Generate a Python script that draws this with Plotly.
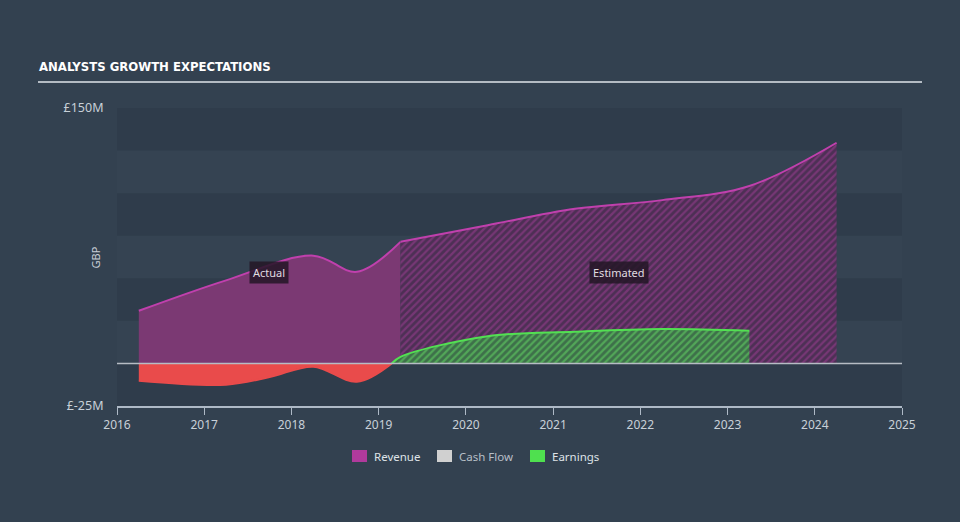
import plotly.graph_objects as go

# ---- data (GBP millions) ----
rev_actual_x = [2016.25, 2017.25, 2018.25, 2018.75, 2019.25]
rev_actual_y = [30.9, 48.8, 63.3, 53.8, 71.4]
rev_est_x = [2019.25, 2020.25, 2021.25, 2022.25, 2023.25, 2024.25]
rev_est_y = [71.4, 81.2, 90.8, 95.9, 104.2, 129.6]

earn_actual_x = [2016.25, 2017.25, 2017.75, 2018.25, 2018.75, 2019.15]
earn_actual_y = [-10.2, -12.5, -8.0, -1.9, -10.8, 0.0]
earn_est_x = [2019.15, 2019.25, 2020.25, 2021.25, 2022.25, 2023.25]
earn_est_y = [0.0, 3.9, 16.0, 18.6, 20.2, 19.2]

x_ticks = [2016, 2017, 2018, 2019, 2020, 2021, 2022, 2023, 2024, 2025]
y_ticks = [-25, 150]
y_tick_text = ["£-25M", "£150M"]
band_ranges = [(100, 125), (50, 75), (0, 25)]

legend_names = ["Revenue", "Cash Flow", "Earnings"]
legend_colors = ["#b03a9c", "#d0d0d0", "#4fe04f"]
legend_text_colors = ["#dfe3e8", "#b8bfc7", "#dfe3e8"]

FONT = "Noto Sans"
REV_LINE = "#c040ad"
RED = "#e94b4b"
GREEN = "#52e052"

# pixel -> paper helpers (plot area: x 117..902, y 108..406)
def px(x):
    return (x - 117) / 785.0

def py(y):
    return (406 - y) / 298.0

fig = go.Figure()

fig.add_trace(go.Scatter(
    x=rev_actual_x, y=rev_actual_y, mode="lines", line_shape="spline",
    line=dict(color=REV_LINE, width=2), fill="tozeroy",
    fillcolor="rgb(123,57,115)", showlegend=False, hoverinfo="skip"))
fig.add_trace(go.Scatter(
    x=rev_est_x, y=rev_est_y, mode="lines", line_shape="spline",
    line=dict(color=REV_LINE, width=2), fill="tozeroy",
    fillpattern=dict(shape="/", fgcolor="#a03e95", bgcolor="rgba(80,45,85,0.9)",
                     size=5, solidity=0.45),
    showlegend=False, hoverinfo="skip"))
fig.add_trace(go.Scatter(
    x=earn_actual_x, y=earn_actual_y, mode="lines", line_shape="spline",
    line=dict(color=RED, width=2), fill="tozeroy",
    fillcolor=RED, showlegend=False, hoverinfo="skip"))
fig.add_trace(go.Scatter(
    x=earn_est_x, y=earn_est_y, mode="lines", line_shape="spline",
    line=dict(color=GREEN, width=2), fill="tozeroy",
    fillpattern=dict(shape="/", fgcolor="#66dd66", bgcolor="rgb(62,112,74)",
                     size=5, solidity=0.45),
    showlegend=False, hoverinfo="skip"))

shapes = []
for lo, hi in band_ranges:
    shapes.append(dict(type="rect", xref="paper", x0=0, x1=1, yref="y", y0=lo, y1=hi,
                       fillcolor="#354352", line=dict(width=0), layer="below"))
shapes.append(dict(type="line", xref="paper", x0=0, x1=1, yref="y", y0=0, y1=0,
                   line=dict(color="#b6bcc4", width=1.5), layer="above"))
shapes.append(dict(type="line", xref="paper", x0=px(38), x1=px(922), yref="paper",
                   y0=py(82), y1=py(82), line=dict(color="#b4bbc3", width=2)))

annotations = [
    dict(text="<b>ANALYSTS GROWTH EXPECTATIONS</b>", xref="paper", yref="paper",
         x=px(37), y=py(67), xanchor="left", yanchor="middle", showarrow=False,
         font=dict(family="DejaVu Sans Condensed, Roboto, sans-serif", size=13,
                   color="#ffffff")),
    dict(text="GBP", xref="paper", yref="paper", x=px(85), y=py(258), textangle=-90,
         showarrow=False, font=dict(family=FONT, size=11, color="#c8ced6")),
    dict(text="Actual", x=2017.743, y=53.6, showarrow=False,
         bgcolor="rgba(35,22,38,0.85)", borderpad=3,
         font=dict(family=FONT, size=11, color="#e0dce0")),
    dict(text="Estimated", x=2021.756, y=53.6, showarrow=False,
         bgcolor="rgba(35,22,38,0.85)", borderpad=3,
         font=dict(family=FONT, size=11, color="#e0dce0")),
]

# manual legend
sw_left = [352, 437, 530]
for name, col, tcol, sx in zip(legend_names, legend_colors, legend_text_colors, sw_left):
    shapes.append(dict(type="rect", xref="paper", yref="paper",
                       x0=px(sx), x1=px(sx + 15), y0=py(462), y1=py(450),
                       fillcolor=col, line=dict(width=0)))
    annotations.append(dict(text=name, xref="paper", yref="paper",
                            x=px(sx + 20), y=py(456), xanchor="left", yanchor="middle",
                            showarrow=False,
                            font=dict(family=FONT, size=11.5, color=tcol)))

fig.update_layout(
    width=960, height=522,
    margin=dict(l=117, r=58, t=108, b=116),
    paper_bgcolor="#334150", plot_bgcolor="#2f3c4b",
    font=dict(family=FONT, color="#c8ced6", size=12),
    shapes=shapes, annotations=annotations, showlegend=False,
    xaxis=dict(range=[2016, 2025], tickvals=x_ticks, ticktext=[str(t) for t in x_ticks],
               showgrid=False, zeroline=False, showline=True, linecolor="#aeb9c6",
               linewidth=1.5, ticks="outside", ticklen=7, tickcolor="#aeb9c6",
               tickfont=dict(size=12, color="#c8d0d8")),
    yaxis=dict(range=[-25, 150], tickvals=y_ticks, ticktext=y_tick_text,
               showgrid=False, zeroline=False, showline=False, ticks="outside",
               ticklen=10, tickcolor="rgba(0,0,0,0)",
               tickfont=dict(size=12.5, color="#c8d0d8")),
)

fig.write_html("out.html")
